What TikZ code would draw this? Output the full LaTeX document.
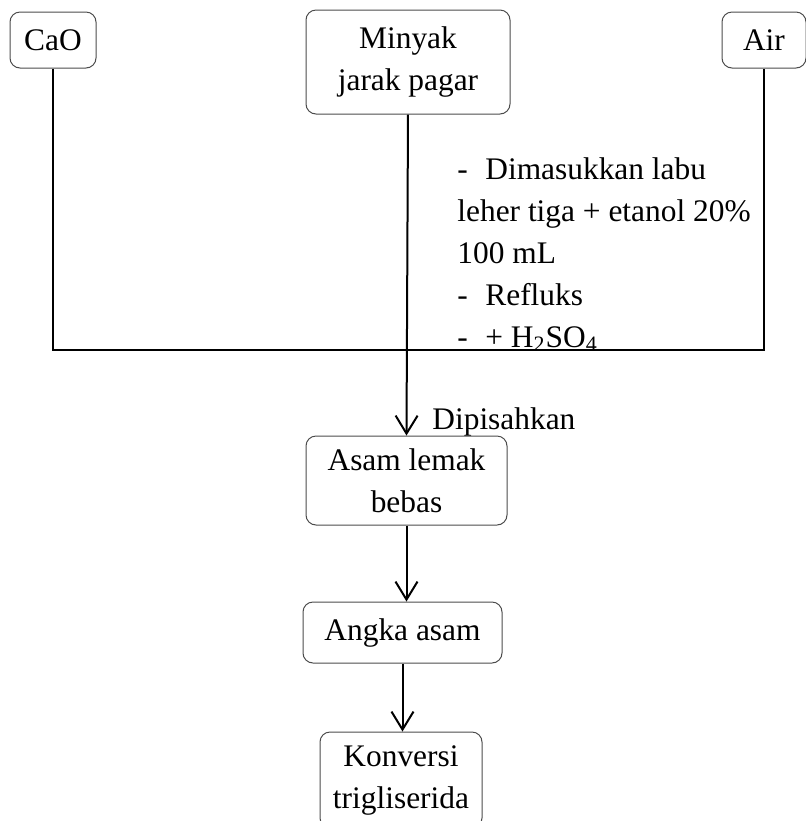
\documentclass[tikz,border=0pt]{standalone}
\usepackage{fontspec}
\setmainfont{Liberation Serif}
\usetikzlibrary{arrows.meta}
\tikzset{
  box/.style={draw=black!70,line width=0.5pt,rounded corners=5pt,align=center,inner sep=0pt},
  link/.style={line width=1pt},
  arr/.style={line width=1pt,-{Straight Barb[length=9pt,width=11pt,line width=1pt]}}
}
\begin{document}
\begin{tikzpicture}[x=0.5pt,y=-0.5pt,font=\fontsize{15.7}{21}\selectfont]
 \useasboundingbox (0,0) rectangle (805,821);
 % starting materials
 \node[box,minimum width=43pt,minimum height=28pt] (cao) at (53,40) {CaO};
 \node[box,minimum width=102pt,minimum height=52pt] (minyak) at (408,62) {Minyak\\jarak pagar};
 \node[box,minimum width=42pt,minimum height=28pt] (air) at (764,40) {Air};
 % products
 \node[box,minimum width=100.5pt,minimum height=44.5pt] (asam) at (406.5,480.5) {Asam lemak\\bebas};
 \node[box,minimum width=99.5pt,minimum height=30.5pt] (angka) at (402.5,632.5) {Angka asam};
 \node[box,minimum width=81pt,minimum height=48pt] (konversi) at (401,780) {Konversi\\trigliserida};
 % process notes
 \node[anchor=base west,align=left,inner sep=0pt] (steps) at (457,347)
  {\makebox[14pt][l]{-}Dimasukkan labu\\leher tiga + etanol 20\%\\100 mL\\
   \makebox[14pt][l]{-}Refluks\\\makebox[14pt][l]{-}+ H\textsubscript{2}SO\textsubscript{4}};
 \node[anchor=west,inner sep=0pt] (pisah) at (432,422) {Dipisahkan};
 \coordinate (join) at (407,350);

 \draw[link] (cao.south) |- (join) -| (air.south);
 \draw[arr] (minyak.south) -- (asam.north);
 \draw[arr] (asam.south) -- (asam.south |- angka.north);
 \draw[arr] (angka.south) -- (angka.south |- konversi.north);
\end{tikzpicture}
\end{document}
